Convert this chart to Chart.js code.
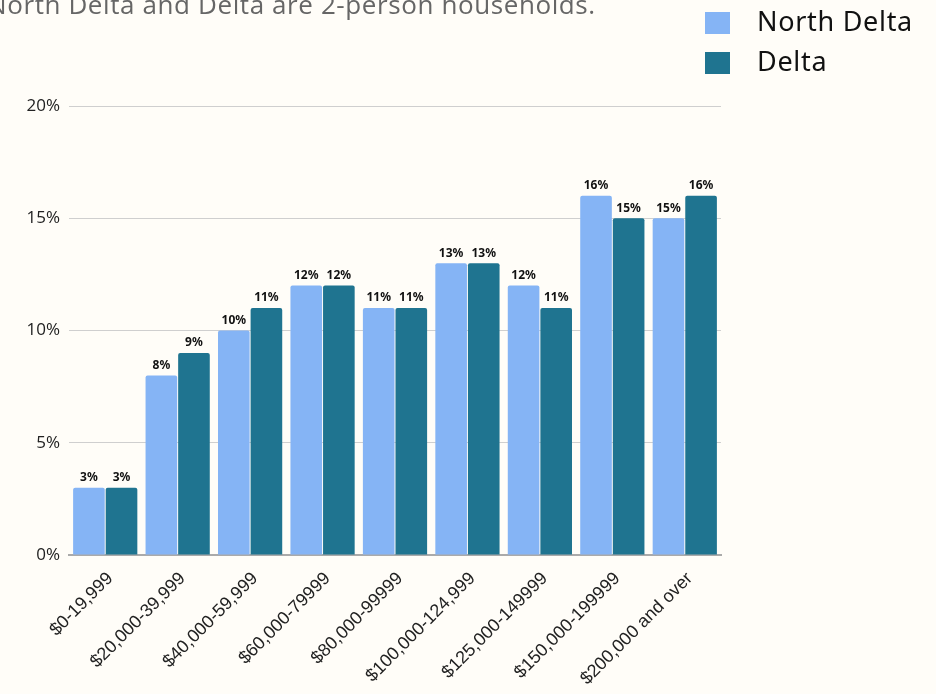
<!DOCTYPE html>
<html>
<head>
<meta charset="utf-8">
<script src="https://cdn.jsdelivr.net/npm/chart.js@4/dist/chart.umd.min.js"></script>
<style>
  html, body { margin: 0; padding: 0; background: #fffdf8; overflow: hidden; }
  #wrap { position: relative; width: 936px; height: 694px; }
  #note { position: absolute; left: -13px; top: -14px; font: 26px "Open Sans", sans-serif; letter-spacing: 0.6px; color: #666; white-space: nowrap; }
  .leg { position: absolute; left: 705px; font: 27px "Noto Sans", sans-serif; letter-spacing: 0.7px; color: #111; }
  .leg span { display: inline-block; width: 25px; height: 22px; margin-right: 27px; vertical-align: -3px; }
  canvas { position: absolute; left: 0; top: 0; }
</style>
</head>
<body>
<div id="wrap">
  <canvas id="chart" width="936" height="694"></canvas>
  <div id="note">North Delta and Delta are 2-person households.</div>
  <div class="leg" style="top:2px"><span style="background:#85b4f5"></span>North Delta</div>
  <div class="leg" style="top:42px"><span style="background:#1f7490"></span>Delta</div>
</div>
<script>
const categories = ['$0-19,999', '$20,000-39,999', '$40,000-59,999', '$60,000-79999', '$80,000-99999',
  '$100,000-124,999', '$125,000-149999', '$150,000-199999', '$200,000 and over'];
const northDelta = [3, 8, 10, 12, 11, 13, 12, 16, 15];
const delta = [3, 9, 11, 12, 11, 13, 11, 15, 16];
const yTicks = [0, 5, 10, 15, 20];

// draws the value above each bar
const barLabels = {
  id: 'barLabels',
  afterDatasetsDraw(chart) {
    const ctx = chart.ctx;
    ctx.save();
    ctx.font = 'bold 12px "Noto Sans", sans-serif';
    ctx.fillStyle = '#111';
    ctx.textAlign = 'center';
    ctx.textBaseline = 'bottom';
    chart.data.datasets.forEach((ds, i) => {
      chart.getDatasetMeta(i).data.forEach((bar, j) => {
        ctx.fillText(ds.data[j] + '%', bar.x, bar.y - 4);
      });
    });
    ctx.restore();
  }
};

new Chart(document.getElementById('chart'), {
  type: 'bar',
  data: {
    labels: categories,
    datasets: [
      { label: 'North Delta', data: northDelta, backgroundColor: '#85b4f5',
        borderRadius: { topLeft: 2, topRight: 2 }, borderSkipped: 'bottom' },
      { label: 'Delta', data: delta, backgroundColor: '#1f7490',
        borderRadius: { topLeft: 2, topRight: 2 }, borderSkipped: 'bottom' }
    ]
  },
  options: {
    responsive: false,
    animation: false,
    layout: { padding: { top: 106, right: 215, left: 0, bottom: 0 } },
    datasets: { bar: { categoryPercentage: 0.9, barPercentage: 0.97 } },
    scales: {
      x: {
        grid: { display: false, drawTicks: false },
        border: { color: '#aaa', width: 2 },
        ticks: { minRotation: 45, maxRotation: 45, padding: 13, labelOffset: 5, color: '#222',
          font: { family: 'Liberation Sans', size: 18 } },
        afterFit: (axis) => { axis.height = 139; }
      },
      y: {
        min: 0, max: 20,
        afterBuildTicks: (axis) => { axis.ticks = yTicks.map(v => ({ value: v })); },
        grid: { color: '#cfcfcf', drawTicks: false },
        border: { display: false },
        ticks: { padding: 9, color: '#222', callback: v => v + '%',
          font: { family: 'Open Sans', size: 17 } },
        afterFit: (axis) => { axis.width = 69; }
      }
    },
    plugins: { legend: { display: false }, tooltip: { enabled: false } }
  },
  plugins: [barLabels]
});
</script>
</body>
</html>
